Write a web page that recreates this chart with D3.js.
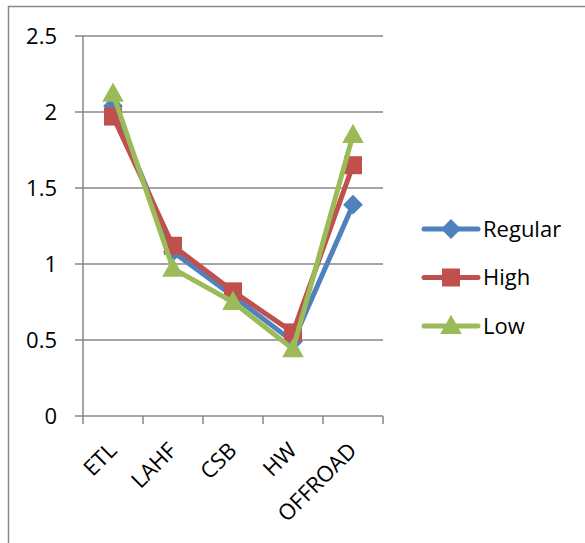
<!DOCTYPE html>
<html lang="en">
<head>
  <meta charset="UTF-8">
  <title>Line chart</title>
  <script src="https://d3js.org/d3.v7.min.js"></script>
  <style>
    body { margin: 0; background: #fff; }
    text { font-family: "Open Sans", "Liberation Sans", sans-serif; fill: #000; }
  </style>
</head>
<body>
  <svg width="585" height="543"></svg>
  <script>
    const categories = ["ETL", "LAHF", "CSB", "HW", "OFFROAD"];
    const regular = [2.04, 1.08, 0.79, 0.49, 1.39];
    const high = [1.97, 1.12, 0.82, 0.55, 1.65];
    const low = [2.12, 0.97, 0.75, 0.44, 1.85];
    const yTicks = [0, 0.5, 1, 1.5, 2, 2.5];

    const series = [
      { name: "Regular", values: regular, color: "#4f81bd", shape: "diamond" },
      { name: "High", values: high, color: "#c0504d", shape: "square" },
      { name: "Low", values: low, color: "#9bbb59", shape: "triangle" }
    ];

    const svg = d3.select("svg");

    // outer chart frame (only top and left edges show)
    svg.append("path")
      .attr("d", "M8.5,543 V6.5 H585")
      .attr("fill", "none")
      .attr("stroke", "#878787")
      .attr("stroke-width", 1.5);

    const x = d3.scaleBand().domain(categories).range([83, 383]);
    const y = d3.scaleLinear().domain([0, 2.5]).range([416, 36]);

    // gridlines + y labels
    const yAxis = svg.append("g");
    yAxis.selectAll("line")
      .data(yTicks)
      .join("line")
      .attr("x1", 75).attr("x2", 383)
      .attr("y1", d => y(d)).attr("y2", d => y(d))
      .attr("stroke", "#878787")
      .attr("stroke-width", 1.5);
    yAxis.selectAll("text")
      .data(yTicks)
      .join("text")
      .attr("x", 57)
      .attr("y", d => y(d))
      .attr("dy", "0.36em")
      .attr("text-anchor", "end")
      .attr("font-size", 22)
      .text(d => d);

    // vertical axis line
    svg.append("line")
      .attr("x1", 83).attr("x2", 83)
      .attr("y1", 36).attr("y2", 416)
      .attr("stroke", "#878787")
      .attr("stroke-width", 1.5);

    // category ticks
    const tickX = categories.map(c => x(c)).concat([x.range()[1]]);
    svg.append("g").selectAll("line")
      .data(tickX)
      .join("line")
      .attr("x1", d => d).attr("x2", d => d)
      .attr("y1", 416).attr("y2", 424)
      .attr("stroke", "#878787")
      .attr("stroke-width", 1.5);

    svg.append("g").selectAll("text")
      .data(categories)
      .join("text")
      .attr("transform", d => `translate(${x(d) + x.bandwidth() / 2 + 5},452) rotate(-45)`)
      .attr("text-anchor", "end")
      .attr("font-size", 22)
      .text(d => d);

    function marker(g, shape, color, cx, cy, s) {
      if (shape === "diamond") {
        g.append("path")
          .attr("d", `M${cx},${cy - s * 0.55} L${cx + s * 0.55},${cy} L${cx},${cy + s * 0.55} L${cx - s * 0.55},${cy} Z`)
          .attr("fill", color);
      } else if (shape === "square") {
        g.append("rect")
          .attr("x", cx - s / 2).attr("y", cy - s / 2)
          .attr("width", s).attr("height", s)
          .attr("fill", color);
      } else {
        g.append("path")
          .attr("d", `M${cx},${cy - s * 0.62} L${cx + s * 0.6},${cy + s * 0.45} L${cx - s * 0.6},${cy + s * 0.45} Z`)
          .attr("fill", color);
      }
    }

    const line = d3.line()
      .x((d, i) => x(categories[i]) + x.bandwidth() / 2)
      .y(d => y(d));

    series.forEach(s => {
      const g = svg.append("g");
      g.append("path")
        .attr("d", line(s.values))
        .attr("fill", "none")
        .attr("stroke", s.color)
        .attr("stroke-width", 5)
        .attr("stroke-linejoin", "round");
      s.values.forEach((v, i) => {
        marker(g, s.shape, s.color, x(categories[i]) + x.bandwidth() / 2, y(v), 18);
      });
    });

    // legend
    const legend = svg.append("g");
    series.forEach((s, i) => {
      const ly = 229 + i * 48.5;
      const g = legend.append("g");
      g.append("line")
        .attr("x1", 424).attr("x2", 478)
        .attr("y1", ly).attr("y2", ly)
        .attr("stroke", s.color)
        .attr("stroke-width", 5)
        .attr("stroke-linecap", "round");
      marker(g, s.shape, s.color, 451, ly, 18);
      g.append("text")
        .attr("x", 483)
        .attr("y", ly)
        .attr("dy", "0.36em")
        .attr("font-size", 22)
        .text(s.name);
    });
  </script>
</body>
</html>
